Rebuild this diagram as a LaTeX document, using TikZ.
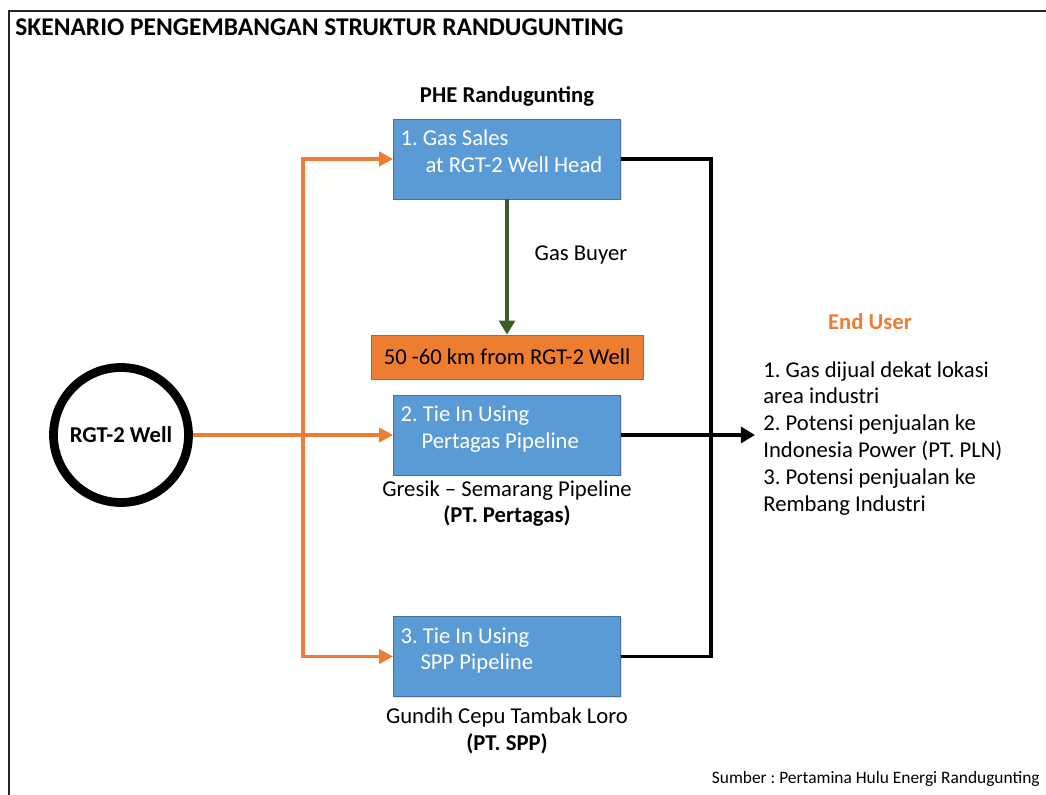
\documentclass[tikz,border=0pt]{standalone}
\usepackage{fontspec}
\setmainfont{Carlito}
\frenchspacing
\usetikzlibrary{arrows.meta,shadows}
\definecolor{boxblue}{HTML}{5B9BD5}
\definecolor{boxedge}{HTML}{41719C}
\definecolor{pipeorange}{HTML}{ED7D31}
\definecolor{buyergreen}{HTML}{3B5E28}
\tikzset{
	pipebox/.style={draw=boxedge, fill=boxblue, minimum width=4.54cm, minimum height=1.6cm, inner sep=0pt,
		drop shadow={shadow xshift=0.8pt, shadow yshift=-0.8pt, opacity=0.25}},
	boxlabel/.style={anchor=north west, align=left, text=white, inner sep=0pt, xshift=0.14cm, yshift=-0.22cm,
		font=\fontsize{12.9}{15.3}\selectfont},
	plain/.style={inner sep=0pt, font=\fontsize{12.9}{15.3}\selectfont},
	feed/.style={draw=pipeorange, line width=2pt},
	sales/.style={draw=black, line width=2pt},
}
\begin{document}
\begin{tikzpicture}[x=0.02cm, y=0.02cm]
		\useasboundingbox (0,0) rectangle (1046,795);
		% frame and title
		\draw[line width=1.4pt, black!85] (9,0) -- (9,784) -- (1046,784);
		\node[plain, anchor=west, font=\bfseries\fontsize{14.5}{17}\selectfont] (title) at (15,768) {SKENARIO PENGEMBANGAN STRUKTUR RANDUGUNTING};
		% the well
		\node[circle, draw, line width=5pt, minimum size=2.7cm, inner sep=0pt, font=\bfseries\fontsize{12.9}{15}\selectfont] (well) at (121,360) {RGT-2 Well};
		% the three options
		\node[plain, font=\bfseries\fontsize{12.9}{15.3}\selectfont] (phe) at (507,699) {PHE Randugunting};
		\node[pipebox, label={[boxlabel]north west:{1. Gas Sales\\\hspace*{0.5cm}at RGT-2 Well Head}}] (gas) at (507,636) {};
		\node[pipebox, label={[boxlabel]north west:{2. Tie In Using\\\hspace*{0.42cm}Pertagas Pipeline}}] (pertagas) at (507,360) {};
		\node[pipebox, label={[boxlabel]north west:{3. Tie In Using\\\hspace*{0.4cm}SPP Pipeline}}] (spp) at (507,138.5) {};
		\node[draw=pipeorange!80!black, fill=pipeorange, minimum width=5.44cm, minimum height=0.88cm, inner sep=0pt,
			font=\fontsize{12.9}{15.3}\selectfont, drop shadow={shadow xshift=0.8pt, shadow yshift=-0.8pt, opacity=0.25}] (dist) at (507,438) {50 -60 km from RGT-2 Well};
		\node[plain] (buyer) at (581,540) {Gas Buyer};
		\node[plain, align=center] (pertagaslbl) at (507,291.5) {Gresik -- Semarang Pipeline\\\textbf{(PT. Pertagas)}};
		\node[plain, align=center] (spplbl) at (507,64.5) {Gundih Cepu Tambak Loro\\\textbf{(PT. SPP)}};
		% end user
		\node[plain, text=pipeorange, font=\bfseries\fontsize{12.9}{15.3}\selectfont] (enduser) at (870,473) {End User};
		\node[plain, anchor=north west, align=left] (userlist) at (763,434) {1. Gas dijual dekat lokasi\\area industri\\2. Potensi penjualan ke\\Indonesia Power (PT. PLN)\\3. Potensi penjualan ke\\Rembang Industri};
		\node[plain, anchor=east, font=\fontsize{9.9}{12}\selectfont] (source) at (1040,16) {Sumber : Pertamina Hulu Energi Randugunting};
		% orange feed lines
		\coordinate (split) at (303,360);
		\draw[feed, -{Triangle[length=8pt,width=8pt]}] (well.east) -- (pertagas.west);
		\draw[feed, {Triangle[length=8pt,width=8pt]}-{Triangle[length=8pt,width=8pt]}] (gas.west) -| (split) |- (spp.west);
		\fill[pipeorange] (split) circle (3);
		% gas buyer
		\draw[buyergreen, line width=2.6pt, -{Triangle[length=8pt,width=9pt]}] (gas.south) -- (dist.north);
		% black sales lines
		\coordinate (bus) at (711,360);
		\draw[sales] (gas.east) -| (bus) |- (spp.east);
		\draw[sales, -{Triangle[length=8pt,width=9pt]}] (pertagas.east) -- (755,360);
	\end{tikzpicture}
\end{document}
